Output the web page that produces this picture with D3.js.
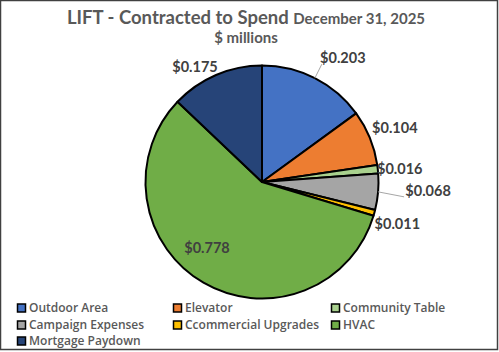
<!DOCTYPE html>
<html>
<head>
<meta charset="utf-8">
<script src="https://cdn.jsdelivr.net/npm/d3@7"></script>
<style>
  body { margin: 0; background: #fff; }
  svg { display: block; font-family: Lato, "Open Sans", sans-serif; }
</style>
</head>
<body>
<svg width="499" height="352"></svg>
<script>
var categories = ['Outdoor Area', 'Elevator', 'Community Table', 'Campaign Expenses',
    'Ccommercial Upgrades', 'HVAC', 'Mortgage Paydown'];
var values = [0.203, 0.104, 0.016, 0.068, 0.011, 0.778, 0.175];
var colors = ['#4472C4', '#ED7D31', '#A9D18E', '#A5A5A5', '#FFC000', '#70AD47', '#264478'];

// label nudges from the outer edge of each slice (layout only)
var labelShift = [[28, -20], [25, -10], [22, 0], [50, -1], [23, 11], null, [-21, -8]];
var leaderLine = [true, false, false, true, false, false, false];

var svg = d3.select('svg');
var svgWidth = +svg.attr('width');
var svgHeight = +svg.attr('height');

svg.append('rect')
    .attr('x', 0.5).attr('y', 0.5)
    .attr('width', svgWidth - 2).attr('height', svgHeight - 3)
    .attr('fill', '#fff')
    .attr('stroke', '#404040')
    .attr('stroke-width', 1.5);

// Title
var title = svg.append('text')
    .attr('x', 246).attr('y', 24)
    .attr('text-anchor', 'middle')
    .attr('fill', '#595959')
    .attr('font-weight', 'bold');
title.append('tspan').attr('font-size', 18.5).text('LIFT - Contracted to Spend ');
title.append('tspan').attr('font-size', 15).text('December 31, 2025');

svg.append('text')
    .attr('x', 246).attr('y', 43)
    .attr('text-anchor', 'middle')
    .attr('fill', '#595959')
    .attr('font-weight', 'bold')
    .attr('font-size', 15)
    .text('$ millions');

// Pie
var cx = 262, cy = 182, radius = 116.5;
var chartG = svg.append('g')
    .attr('transform', 'translate(' + [cx, cy] + ')');

var pie = d3.pie().sort(null).value(function(d) { return d; });
var arcs = pie(values);
var arc = d3.arc().innerRadius(0).outerRadius(radius);

chartG.selectAll('.slice')
    .data(arcs)
    .enter().append('path')
    .attr('class', 'slice')
    .attr('d', arc)
    .attr('fill', function(d, i) { return colors[i]; })
    .attr('stroke', '#000')
    .attr('stroke-width', 2)
    .attr('stroke-linejoin', 'round');

function edgePoint(d) {
    var a = (d.startAngle + d.endAngle) / 2;
    return [radius * Math.sin(a), -radius * Math.cos(a)];
}

var labelG = chartG.selectAll('.lbl')
    .data(arcs)
    .enter().append('g')
    .attr('class', 'lbl');

labelG.each(function(d, i) {
    var g = d3.select(this);
    var pos;
    if (labelShift[i]) {
        var p = edgePoint(d);
        pos = [p[0] + labelShift[i][0], p[1] + labelShift[i][1]];
        if (leaderLine[i]) {
            var end = i === 0 ? [pos[0] - 21, pos[1] + 6] : [pos[0] - 24, pos[1] + 6];
            g.append('line')
                .attr('x1', p[0]).attr('y1', p[1])
                .attr('x2', end[0]).attr('y2', end[1])
                .attr('stroke', '#a6a6a6')
                .attr('stroke-width', 1);
        }
    } else {
        // big slice: label sits inside
        pos = [-55, 66];
    }
    g.append('text')
        .attr('x', pos[0]).attr('y', pos[1])
        .attr('dy', '0.35em')
        .attr('text-anchor', 'middle')
        .attr('fill', '#404040')
        .attr('font-size', 14.5)
        .attr('font-weight', 'bold')
        .text('$' + d3.format('.3f')(values[i]));
});

// Legend
var legendX = [17, 173, 331];
var legendY = [308, 325, 341];
var legend = svg.selectAll('.legend')
    .data(categories)
    .enter().append('g')
    .attr('class', 'legend')
    .attr('transform', function(d, i) {
        return 'translate(' + [legendX[i % 3], legendY[Math.floor(i / 3)]] + ')';
    });

legend.append('rect')
    .attr('x', 0.5).attr('y', -4)
    .attr('width', 8).attr('height', 8)
    .attr('fill', function(d, i) { return colors[i]; })
    .attr('stroke', '#000')
    .attr('stroke-width', 1.5);

legend.append('text')
    .attr('x', 12).attr('y', 0)
    .attr('dy', '0.35em')
    .attr('fill', '#595959')
    .attr('font-family', '"Open Sans", sans-serif')
    .attr('font-weight', 600)
    .attr('font-size', 12)
    .text(function(d) { return d; });
</script>
</body>
</html>
